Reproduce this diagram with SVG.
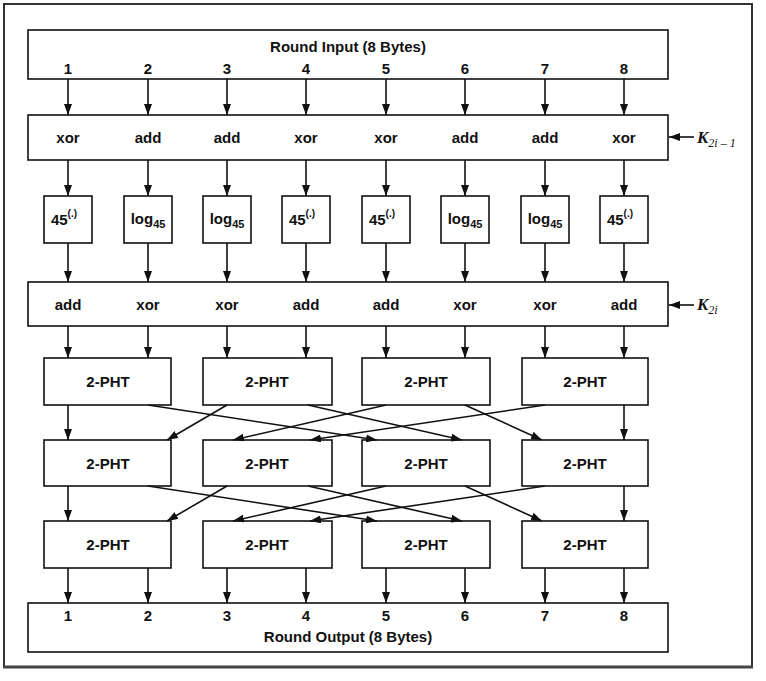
<svg xmlns="http://www.w3.org/2000/svg" width="766" height="681" viewBox="0 0 766 681">
<defs>
<marker id="ah" markerUnits="userSpaceOnUse" markerWidth="11" markerHeight="8" refX="11" refY="4" orient="auto">
<path d="M0,0 L11,4 L0,8 z" fill="#111"/>
</marker>
<style>
.box{fill:#fff;stroke:#111;stroke-width:1.6}
.t{font-family:"Liberation Sans",Arial,sans-serif;font-size:15px;font-weight:bold;fill:#111;text-anchor:middle}
.c line{stroke:#111;stroke-width:1.6;marker-end:url(#ah)}
.k{font-family:"Liberation Serif","Times New Roman",serif;font-style:italic;font-weight:bold;font-size:17px;fill:#111}
</style>
</defs>
<rect x="0" y="0" width="766" height="681" fill="#fff"/>
<rect x="4" y="4" width="748" height="663" fill="none" stroke="#333" stroke-width="2"/>
<line x1="3" y1="667" x2="753" y2="667" stroke="#444" stroke-width="3"/>

<g id="round-input">
<rect class="box" x="28" y="30" width="640" height="49"/>
<text class="t" x="348" y="52">Round Input (8 Bytes)</text>
<text class="t" x="68" y="74">1</text><text class="t" x="148" y="74">2</text><text class="t" x="227" y="74">3</text><text class="t" x="306" y="74">4</text>
<text class="t" x="386" y="74">5</text><text class="t" x="465" y="74">6</text><text class="t" x="545" y="74">7</text><text class="t" x="624" y="74">8</text>
</g>

<g id="key-mix-1">
<rect class="box" x="28" y="115" width="640" height="45"/>
<text class="t" x="68" y="143">xor</text><text class="t" x="148" y="143">add</text><text class="t" x="227" y="143">add</text><text class="t" x="306" y="143">xor</text>
<text class="t" x="386" y="143">xor</text><text class="t" x="465" y="143">add</text><text class="t" x="545" y="143">add</text><text class="t" x="624" y="143">xor</text>
</g>
<g id="k1-label">
<text class="k" x="697" y="143">K<tspan font-size="12" font-weight="normal" dy="4">2i – 1</tspan></text>
</g>

<g id="exp1"><rect class="box" x="44" y="196" width="48" height="47"/><text class="t" x="64" y="225">45<tspan font-size="10" dy="-8">(.)</tspan></text></g>
<g id="log2"><rect class="box" x="124" y="196" width="48" height="47"/><text class="t" x="148" y="224">log<tspan font-size="11" dy="4">45</tspan></text></g>
<g id="log3"><rect class="box" x="203" y="196" width="48" height="47"/><text class="t" x="227" y="224">log<tspan font-size="11" dy="4">45</tspan></text></g>
<g id="exp4"><rect class="box" x="282" y="196" width="48" height="47"/><text class="t" x="302" y="225">45<tspan font-size="10" dy="-8">(.)</tspan></text></g>
<g id="exp5"><rect class="box" x="362" y="196" width="48" height="47"/><text class="t" x="382" y="225">45<tspan font-size="10" dy="-8">(.)</tspan></text></g>
<g id="log6"><rect class="box" x="441" y="196" width="48" height="47"/><text class="t" x="465" y="224">log<tspan font-size="11" dy="4">45</tspan></text></g>
<g id="log7"><rect class="box" x="521" y="196" width="48" height="47"/><text class="t" x="545" y="224">log<tspan font-size="11" dy="4">45</tspan></text></g>
<g id="exp8"><rect class="box" x="600" y="196" width="48" height="47"/><text class="t" x="620" y="225">45<tspan font-size="10" dy="-8">(.)</tspan></text></g>

<g id="key-mix-2">
<rect class="box" x="28" y="282" width="640" height="44"/>
<text class="t" x="68" y="310">add</text><text class="t" x="148" y="310">xor</text><text class="t" x="227" y="310">xor</text><text class="t" x="306" y="310">add</text>
<text class="t" x="386" y="310">add</text><text class="t" x="465" y="310">xor</text><text class="t" x="545" y="310">xor</text><text class="t" x="624" y="310">add</text>
</g>
<g id="k2-label">
<text class="k" x="697" y="310">K<tspan font-size="12" font-weight="normal" dy="4">2i</tspan></text>
</g>

<g id="pht-1-1"><rect class="box" x="44" y="358" width="127" height="47"/><text class="t" x="108" y="387">2-PHT</text></g>
<g id="pht-1-2"><rect class="box" x="203" y="358" width="129" height="47"/><text class="t" x="267" y="387">2-PHT</text></g>
<g id="pht-1-3"><rect class="box" x="362" y="358" width="128" height="47"/><text class="t" x="426" y="387">2-PHT</text></g>
<g id="pht-1-4"><rect class="box" x="522" y="358" width="126" height="47"/><text class="t" x="585" y="387">2-PHT</text></g>

<g id="pht-2-1"><rect class="box" x="44" y="440" width="127" height="46"/><text class="t" x="108" y="469">2-PHT</text></g>
<g id="pht-2-2"><rect class="box" x="203" y="440" width="129" height="46"/><text class="t" x="267" y="469">2-PHT</text></g>
<g id="pht-2-3"><rect class="box" x="362" y="440" width="128" height="46"/><text class="t" x="426" y="469">2-PHT</text></g>
<g id="pht-2-4"><rect class="box" x="522" y="440" width="126" height="46"/><text class="t" x="585" y="469">2-PHT</text></g>

<g id="pht-3-1"><rect class="box" x="44" y="521" width="127" height="47"/><text class="t" x="108" y="550">2-PHT</text></g>
<g id="pht-3-2"><rect class="box" x="203" y="521" width="129" height="47"/><text class="t" x="267" y="550">2-PHT</text></g>
<g id="pht-3-3"><rect class="box" x="362" y="521" width="128" height="47"/><text class="t" x="426" y="550">2-PHT</text></g>
<g id="pht-3-4"><rect class="box" x="522" y="521" width="126" height="47"/><text class="t" x="585" y="550">2-PHT</text></g>

<g id="round-output">
<rect class="box" x="28" y="603" width="640" height="49"/>
<text class="t" x="68" y="621">1</text><text class="t" x="148" y="621">2</text><text class="t" x="227" y="621">3</text><text class="t" x="306" y="621">4</text>
<text class="t" x="386" y="621">5</text><text class="t" x="465" y="621">6</text><text class="t" x="545" y="621">7</text><text class="t" x="624" y="621">8</text>
<text class="t" x="348" y="642">Round Output (8 Bytes)</text>
</g>

<g id="connectors" class="c">
<line x1="68" y1="79" x2="68" y2="115"/><line x1="148" y1="79" x2="148" y2="115"/><line x1="227" y1="79" x2="227" y2="115"/><line x1="306" y1="79" x2="306" y2="115"/>
<line x1="386" y1="79" x2="386" y2="115"/><line x1="465" y1="79" x2="465" y2="115"/><line x1="545" y1="79" x2="545" y2="115"/><line x1="624" y1="79" x2="624" y2="115"/>

<line x1="68" y1="160" x2="68" y2="196"/><line x1="148" y1="160" x2="148" y2="196"/><line x1="227" y1="160" x2="227" y2="196"/><line x1="306" y1="160" x2="306" y2="196"/>
<line x1="386" y1="160" x2="386" y2="196"/><line x1="465" y1="160" x2="465" y2="196"/><line x1="545" y1="160" x2="545" y2="196"/><line x1="624" y1="160" x2="624" y2="196"/>

<line x1="68" y1="243" x2="68" y2="282"/><line x1="148" y1="243" x2="148" y2="282"/><line x1="227" y1="243" x2="227" y2="282"/><line x1="306" y1="243" x2="306" y2="282"/>
<line x1="386" y1="243" x2="386" y2="282"/><line x1="465" y1="243" x2="465" y2="282"/><line x1="545" y1="243" x2="545" y2="282"/><line x1="624" y1="243" x2="624" y2="282"/>

<line x1="68" y1="326" x2="68" y2="358"/><line x1="148" y1="326" x2="148" y2="358"/><line x1="227" y1="326" x2="227" y2="358"/><line x1="306" y1="326" x2="306" y2="358"/>
<line x1="386" y1="326" x2="386" y2="358"/><line x1="465" y1="326" x2="465" y2="358"/><line x1="545" y1="326" x2="545" y2="358"/><line x1="624" y1="326" x2="624" y2="358"/>

<line x1="68" y1="405" x2="68" y2="440"/>
<line x1="148" y1="405" x2="377" y2="440"/>
<line x1="227" y1="405" x2="167" y2="440"/>
<line x1="308" y1="405" x2="462" y2="440"/>
<line x1="386" y1="405" x2="233" y2="440"/>
<line x1="465" y1="405" x2="542" y2="440"/>
<line x1="545" y1="405" x2="310" y2="440"/>
<line x1="624" y1="405" x2="624" y2="440"/>

<line x1="68" y1="486" x2="68" y2="521"/>
<line x1="148" y1="486" x2="377" y2="521"/>
<line x1="227" y1="486" x2="167" y2="521"/>
<line x1="308" y1="486" x2="462" y2="521"/>
<line x1="386" y1="486" x2="233" y2="521"/>
<line x1="465" y1="486" x2="542" y2="521"/>
<line x1="545" y1="486" x2="310" y2="521"/>
<line x1="624" y1="486" x2="624" y2="521"/>

<line x1="68" y1="568" x2="68" y2="603"/><line x1="148" y1="568" x2="148" y2="603"/><line x1="227" y1="568" x2="227" y2="603"/><line x1="306" y1="568" x2="306" y2="603"/>
<line x1="386" y1="568" x2="386" y2="603"/><line x1="465" y1="568" x2="465" y2="603"/><line x1="545" y1="568" x2="545" y2="603"/><line x1="624" y1="568" x2="624" y2="603"/>

<line x1="694" y1="137" x2="669" y2="137"/>
<line x1="694" y1="305" x2="669" y2="305"/>
</g>
</svg>
